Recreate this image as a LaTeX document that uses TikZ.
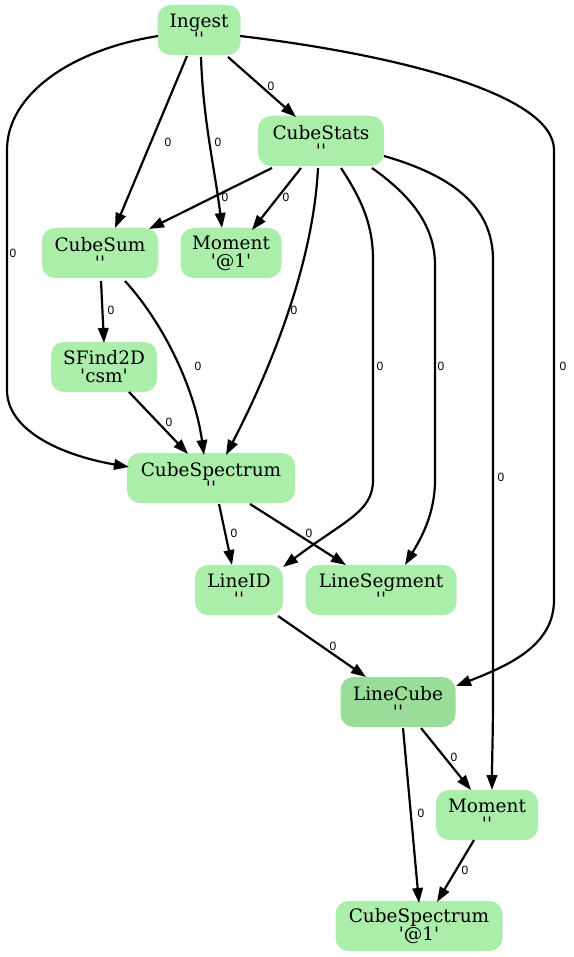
\documentclass[tikz,border=0pt]{standalone}
\usepackage{fontspec}
\newfontfamily\nodefont{DejaVu Serif}
\newfontfamily\labfont{Liberation Sans}
\usetikzlibrary{arrows.meta}
\definecolor{nodegreen}{HTML}{AAEEAA}
\definecolor{nodegreendk}{HTML}{99DD99}
\begin{document}
\begin{tikzpicture}[x=1pt,y=-1pt,
  box/.style={rounded corners=13pt, fill=nodegreen, draw=none, minimum height=50pt,
    inner sep=0pt, align=center, font=\nodefont\fontsize{18.5}{18}\selectfont},
  e/.style={line width=2.2pt, -{Triangle[length=15pt,width=10.5pt]}},
  lab/.style={font=\labfont\fontsize{12}{12}\selectfont, inner sep=0pt}]
\useasboundingbox (0,0) rectangle (573,957);

\node[box,minimum width=83pt]  (ingest)   at (199,30)  {Ingest\\''};
\node[box,minimum width=126pt] (cstats)   at (321,141) {CubeStats\\''};
\node[box,minimum width=116pt] (csum)     at (100,253) {CubeSum\\''};
\node[box,minimum width=101pt] (mom1)     at (231,253) {Moment\\'@1'};
\node[box,minimum width=106pt] (sfind)    at (104,367) {SFind2D\\'csm'};
\node[box,minimum width=168pt] (cspec)    at (211,478) {CubeSpectrum\\''};
\node[box,minimum width=88pt]  (lineid)   at (239,590) {LineID\\''};
\node[box,minimum width=151pt] (lineseg)  at (381,590) {LineSegment\\''};
\node[box,minimum width=115pt,fill=nodegreendk] (linecube) at (398,702) {LineCube\\''};
\node[box,minimum width=102pt] (mom)      at (487,815) {Moment\\''};
\node[box,minimum width=167pt] (cspec1)   at (419,926) {CubeSpectrum\\'@1'};

% Ingest edges
\draw[e] ([shift={(-12,26)}]ingest.center) -- ([shift={(15,-25)}]csum.center);
\draw[e] ([shift={(2,27)}]ingest.center) .. controls +(2,63) and +(-7,-58) .. ([shift={(-9,-25)}]mom1.center);
\draw[e] ([shift={(29,27)}]ingest.center) -- ([shift={(-25,-24)}]cstats.center);
\draw[e] ([shift={(-41,6)}]ingest.center) .. controls (70,50) and (7,95) .. (7,150) -- (7,390) .. controls (7,430) and (60,455) .. ([shift={(-82,-11)}]cspec.center);
\draw[e] ([shift={(41,6)}]ingest.center) .. controls (400,55) and (554,95) .. (554,150) -- (554,600) .. controls (554,645) and (510,665) .. ([shift={(58,-16)}]linecube.center);

% CubeStats edges
\draw[e] ([shift={(-49,27)}]cstats.center) -- ([shift={(49,-24)}]csum.center);
\draw[e] ([shift={(-20,27)}]cstats.center) -- ([shift={(21,-23)}]mom1.center);
\draw[e] ([shift={(-3,27)}]cstats.center) .. controls +(-5,102) and +(39,-75) .. ([shift={(15,-23)}]cspec.center);
\draw[e] ([shift={(20,27)}]cstats.center) .. controls (362,200) and (373,225) .. (373,260) -- (373,480) .. controls (373,512) and (345,520) .. ([shift={(44,-23)}]lineid.center);
\draw[e] ([shift={(51,27)}]cstats.center) .. controls (410,195) and (435,225) .. (435,265) -- (435,480) .. controls (435,515) and (420,540) .. ([shift={(24,-25)}]lineseg.center);
\draw[e] ([shift={(63,15)}]cstats.center) .. controls (450,175) and (493,205) .. (493,260) -- (493,700) .. controls (493,730) and (492,760) .. ([shift={(5,-25)}]mom.center);

% CubeSum / SFind2D
\draw[e] ([shift={(1,28)}]csum.center) -- ([shift={(0,-24)}]sfind.center);
\draw[e] ([shift={(25,28)}]csum.center) .. controls +(40,44) and +(-9,-65) .. ([shift={(-7,-23)}]cspec.center);
\draw[e] ([shift={(25,25)}]sfind.center) -- ([shift={(-23,-24)}]cspec.center);

% CubeSpectrum
\draw[e] ([shift={(8,26)}]cspec.center) -- ([shift={(-7,-25)}]lineid.center);
\draw[e] ([shift={(39,26)}]cspec.center) -- ([shift={(-35,-25)}]lineseg.center);

% LineID, LineCube, Moment
\draw[e] ([shift={(39,26)}]lineid.center) -- ([shift={(-32,-25)}]linecube.center);
\draw[e] ([shift={(23,26)}]linecube.center) -- ([shift={(-16,-25)}]mom.center);
\draw[e] ([shift={(5,26)}]linecube.center) -- ([shift={(0,-23)}]cspec1.center);
\draw[e] ([shift={(-13,25)}]mom.center) -- ([shift={(18,-24)}]cspec1.center);

% edge labels
\node[lab] (l1)  at (168,142) {0};
\node[lab] (l2)  at (218,142) {0};
\node[lab] (l3)  at (271,86)  {0};
\node[lab] (l4)  at (13,253)  {0};
\node[lab] (l5)  at (563,366) {0};
\node[lab] (l6)  at (225,197) {0};
\node[lab] (l7)  at (286,197) {0};
\node[lab] (l8)  at (294,310) {0};
\node[lab] (l9)  at (380,366) {0};
\node[lab] (l10) at (441,366) {0};
\node[lab] (l11) at (501,477) {0};
\node[lab] (l12) at (111,310) {0};
\node[lab] (l13) at (198,366) {0};
\node[lab] (l14) at (169,422) {0};
\node[lab] (l15) at (234,533) {0};
\node[lab] (l16) at (309,533) {0};
\node[lab] (l17) at (333,646) {0};
\node[lab] (l18) at (454,757) {0};
\node[lab] (l19) at (421,813) {0};
\node[lab] (l20) at (465,870) {0};
\end{tikzpicture}
\end{document}
